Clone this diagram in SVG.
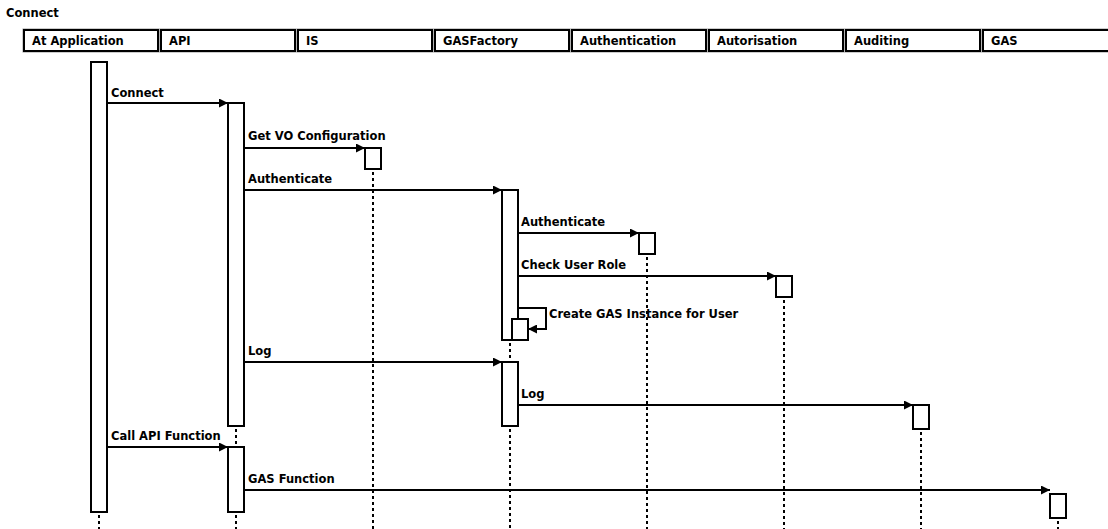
<svg xmlns="http://www.w3.org/2000/svg" width="1108" height="529" viewBox="0 0 1108 529">
<style>
text{font-family:"DejaVu Sans","Liberation Sans",sans-serif;font-weight:bold;font-size:11.5px;fill:#000}
.hdr{fill:#fff;stroke:#000;stroke-width:2}
.hdro{fill:none;stroke:#999;stroke-width:1}
.act{fill:#fff;stroke:#000;stroke-width:2}
.life{stroke:#000;stroke-width:2;stroke-dasharray:3 3;fill:none}
.msg{stroke:#000;stroke-width:2;fill:none;marker-end:url(#ah)}
</style>
<defs>
<marker id="ah" viewBox="0 0 10 10" refX="10" refY="5" markerWidth="9" markerHeight="9" markerUnits="userSpaceOnUse" orient="auto">
<path d="M0,0 L10,5 L0,10 Z" fill="#000"/>
</marker>
</defs>
<rect width="1108" height="529" fill="#fff"/>
<text x="6" y="17">Connect</text>

<g id="lifelines">
<line class="life" x1="99" y1="515" x2="99" y2="529"/>
<line class="life" x1="236" y1="429" x2="236" y2="446"/>
<line class="life" x1="236" y1="515" x2="236" y2="529"/>
<line class="life" x1="373" y1="172" x2="373" y2="529"/>
<line class="life" x1="510" y1="343" x2="510" y2="360"/>
<line class="life" x1="510" y1="429" x2="510" y2="529"/>
<line class="life" x1="647" y1="257" x2="647" y2="529"/>
<line class="life" x1="784" y1="300" x2="784" y2="529"/>
<line class="life" x1="921" y1="432" x2="921" y2="529"/>
<line class="life" x1="1058" y1="521" x2="1058" y2="529"/>
</g>

<g id="node-atapp">
<rect class="hdro" x="23" y="29" width="136" height="23"/>
<rect class="hdr" x="24" y="30" width="134" height="21"/>
<text x="32" y="45">At Application</text>
<rect class="act" x="91" y="62" width="16" height="450"/>
</g>
<g id="node-api">
<rect class="hdro" x="160" y="29" width="136" height="23"/>
<rect class="hdr" x="161" y="30" width="134" height="21"/>
<text x="169" y="45">API</text>
<rect class="act" x="228" y="103" width="16" height="323"/>
<rect class="act" x="228" y="447" width="16" height="65"/>
</g>
<g id="node-is">
<rect class="hdro" x="297" y="29" width="136" height="23"/>
<rect class="hdr" x="298" y="30" width="134" height="21"/>
<text x="306" y="45">IS</text>
<rect class="act" x="365" y="148" width="16" height="21"/>
</g>
<g id="node-gasfactory">
<rect class="hdro" x="434" y="29" width="136" height="23"/>
<rect class="hdr" x="435" y="30" width="134" height="21"/>
<text x="443" y="45">GASFactory</text>
<rect class="act" x="502" y="190" width="16" height="150"/>
<rect class="act" x="512" y="319" width="16" height="21"/>
<rect class="act" x="502" y="362" width="16" height="64"/>
</g>
<g id="node-authentication">
<rect class="hdro" x="571" y="29" width="136" height="23"/>
<rect class="hdr" x="572" y="30" width="134" height="21"/>
<text x="580" y="45">Authentication</text>
<rect class="act" x="639" y="233" width="16" height="21"/>
</g>
<g id="node-autorisation">
<rect class="hdro" x="708" y="29" width="136" height="23"/>
<rect class="hdr" x="709" y="30" width="134" height="21"/>
<text x="717" y="45">Autorisation</text>
<rect class="act" x="776" y="276" width="16" height="21"/>
</g>
<g id="node-auditing">
<rect class="hdro" x="845" y="29" width="136" height="23"/>
<rect class="hdr" x="846" y="30" width="134" height="21"/>
<text x="854" y="45">Auditing</text>
<rect class="act" x="913" y="405" width="16" height="24"/>
</g>
<g id="node-gas">
<rect class="hdro" x="982" y="29" width="136" height="23"/>
<rect class="hdr" x="983" y="30" width="134" height="21"/>
<text x="991" y="45">GAS</text>
<rect class="act" x="1050" y="494" width="16" height="24"/>
</g>

<g id="connectors">
<line class="msg" x1="107" y1="103" x2="228" y2="103"/>
<text x="111" y="97">Connect</text>
<line class="msg" x1="244" y1="148" x2="365" y2="148"/>
<text x="248" y="140">Get VO Configuration</text>
<line class="msg" x1="244" y1="190" x2="502" y2="190"/>
<text x="248" y="183">Authenticate</text>
<line class="msg" x1="518" y1="233" x2="639" y2="233"/>
<text x="521" y="226">Authenticate</text>
<line class="msg" x1="518" y1="276" x2="776" y2="276"/>
<text x="521" y="269">Check User Role</text>
<path class="msg" d="M518,308 H546 V329 H528"/>
<text x="549" y="318">Create GAS Instance for User</text>
<line class="msg" x1="244" y1="362" x2="502" y2="362"/>
<text x="248" y="355">Log</text>
<line class="msg" x1="518" y1="405" x2="913" y2="405"/>
<text x="521" y="398">Log</text>
<line class="msg" x1="107" y1="447" x2="228" y2="447"/>
<text x="111" y="440">Call API Function</text>
<line class="msg" x1="244" y1="490" x2="1050" y2="490"/>
<text x="248" y="483">GAS Function</text>
</g>
</svg>
